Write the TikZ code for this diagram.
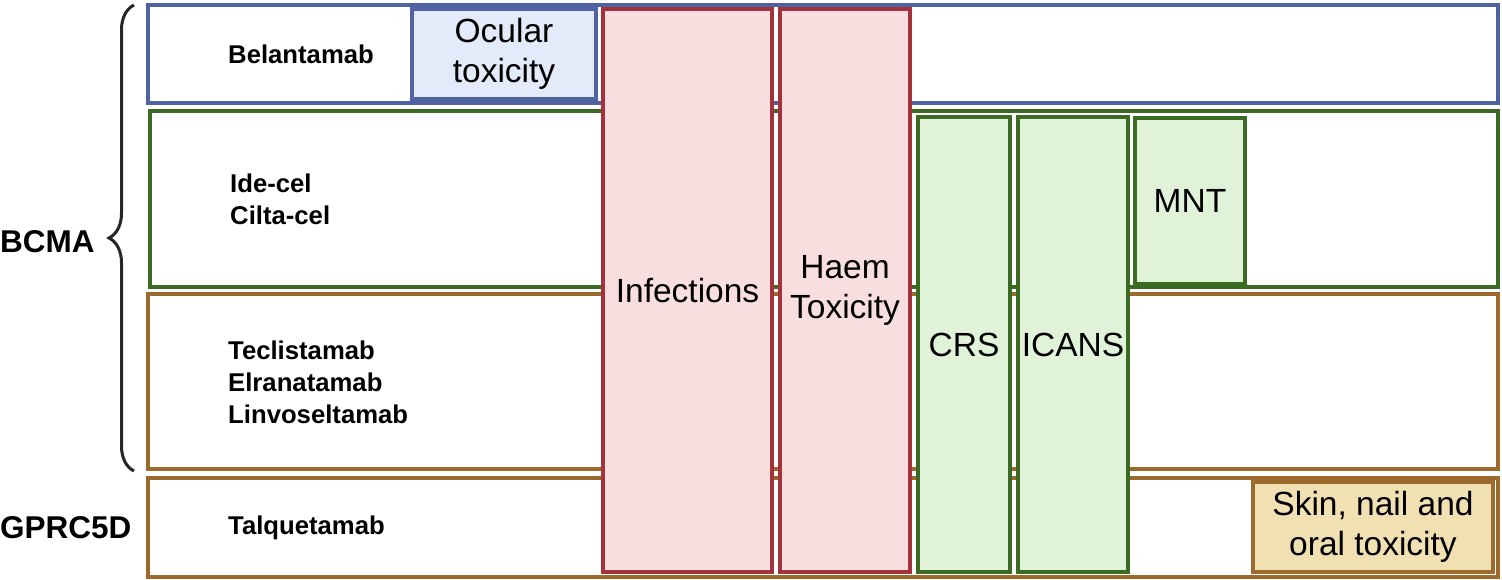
\documentclass[tikz,border=0pt]{standalone}
\usepackage{fontspec}
\setmainfont{Liberation Sans}
\usetikzlibrary{positioning,decorations.pathreplacing}
\definecolor{bcmablue}{HTML}{4F62A3}
\definecolor{bluefill}{HTML}{E3EAF9}
\definecolor{infred}{HTML}{A3323C}
\definecolor{redfill}{HTML}{F9DEDF}
\definecolor{cargreen}{HTML}{3B6B23}
\definecolor{greenfill}{HTML}{E0F3D9}
\definecolor{tcebrown}{HTML}{9B6A2C}
\definecolor{brownfill}{HTML}{F1E0B2}
\definecolor{bracegray}{HTML}{262626}

\begin{document}
\begin{tikzpicture}[
    x=1pt, y=-1pt,
    rowbox/.style={draw=#1, fill=white, line width=3.5pt, inner sep=0pt},
    toxbox/.style={draw=#1, line width=3.5pt, align=center, inner sep=0pt,
                   font=\fontsize{33.5}{40}\selectfont},
    drug/.style={anchor=west, align=left, inner sep=0pt,
                 font=\bfseries\fontsize{25.7}{32}\selectfont},
    target/.style={anchor=west, inner sep=0pt,
                   font=\bfseries\fontsize{31.5}{37}\selectfont},
    bcmabrace/.style={decorate, decoration={brace, amplitude=25pt},
                      draw=bracegray, line width=3pt},
  ]
  \useasboundingbox (0,0) rectangle (1502,580);

  % Drug class rows.
  \node[rowbox=bcmablue, minimum width=1350pt, minimum height=98pt]  (belrow)  at (823,54)    {};
  \node[rowbox=cargreen, minimum width=1348pt, minimum height=176pt] (cellrow) at (824,199)   {};
  \node[rowbox=tcebrown, minimum width=1350pt, minimum height=175pt] (tcerow)  at (823,381.5) {};
  \node[rowbox=tcebrown, minimum width=1350pt, minimum height=99pt]  (gprcrow) at (823,527.5) {};

  \node[drug] (belname)  at (228,54)  {Belantamab};
  \node[drug] (cellname) at (230,199) {Ide-cel\\Cilta-cel};
  \node[drug] (tcename)  at (228,382) {Teclistamab\\Elranatamab\\Linvoseltamab};
  \node[drug] (gprcname) at (228,528) {Talquetamab};

  % Targets.
  \node[target] (bcma) at (0,242) {BCMA};
  \node[target] (gprc) at (0,528) {GPRC5D};
  \coordinate (bracetop) at (134,5);
  \coordinate (bracebot) at (134,471);
  \draw[bcmabrace] (bracebot) -- (bracetop);

  % Toxicities.
  \node[toxbox=bcmablue, fill=bluefill, minimum width=184pt, minimum height=90pt]
    (ocular) at (504,54) {Ocular\\toxicity};
  \node[toxbox=infred, fill=redfill, minimum width=169pt, minimum height=563pt]
    (infect) at (687.5,290.5) {Infections};
  \node[toxbox=infred, fill=redfill, minimum width=130pt, minimum height=563pt]
    (haem) at (845,290.5) {Haem\\Toxicity};
  \node[toxbox=cargreen, fill=greenfill, minimum width=92pt, minimum height=455pt]
    (crs) at (964,344.5) {CRS};
  \node[toxbox=cargreen, fill=greenfill, minimum width=110pt, minimum height=455pt]
    (icans) at (1073,344.5) {ICANS};
  \node[toxbox=cargreen, fill=greenfill, minimum width=110pt, minimum height=166pt]
    (mnt) at (1190,201) {MNT};
  \node[toxbox=tcebrown, fill=brownfill, minimum width=240pt, minimum height=90pt]
    (skin) at (1373,527) {Skin, nail and\\oral toxicity};
\end{tikzpicture}
\end{document}
